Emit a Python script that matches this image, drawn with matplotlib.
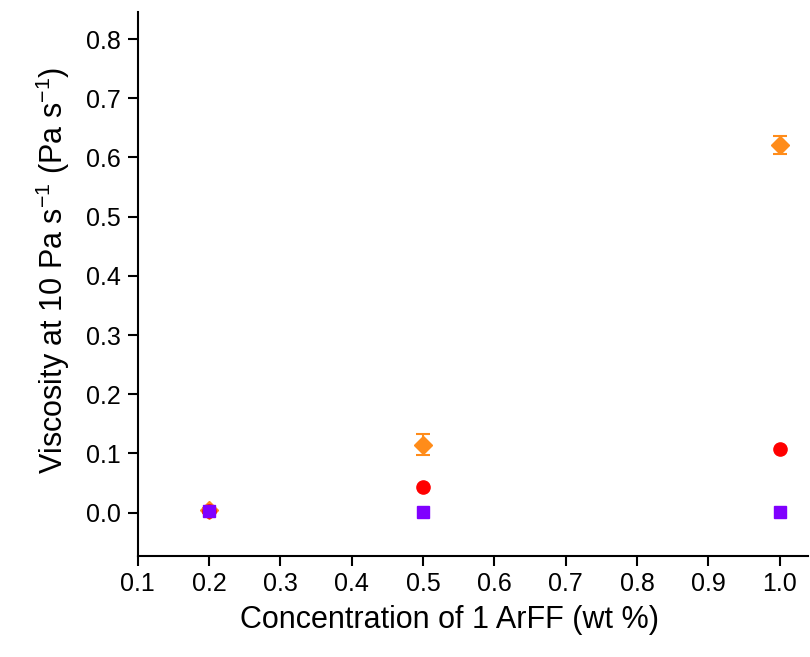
import matplotlib.pyplot as plt

plt.rcParams['font.family'] = ['Liberation Sans', 'DejaVu Sans']
plt.rcParams['mathtext.fontset'] = 'custom'
plt.rcParams['mathtext.rm'] = 'Liberation Sans'
plt.rcParams['mathtext.default'] = 'rm'

# concentration (wt %)
conc = [0.2, 0.5, 1.0]
# viscosity series
orange_vals = [0.004, 0.115, 0.621]
orange_err = [0.004, 0.018, 0.016]
red_vals = [0.002, 0.043, 0.107]
purple_vals = [0.002, 0.001, 0.001]

fig = plt.figure(figsize=(8.1, 6.57), dpi=100)
ax = fig.add_axes([0.170, 0.154, 0.828, 0.828])

ax.errorbar(conc, orange_vals, yerr=orange_err, fmt='D', color='#FF8C1A',
            markersize=9.5, capsize=5, elinewidth=1.5, capthick=1.5, zorder=2)
ax.plot(conc, red_vals, 'o', color='#FF0000', markersize=9.5, zorder=3)
ax.plot(conc, purple_vals, 's', color='#8000FF', markersize=8, zorder=4)

ax.set_xlim(0.1, 1.04)
ax.set_ylim(-0.073, 0.846)
ax.set_xticks([0.1, 0.2, 0.3, 0.4, 0.5, 0.6, 0.7, 0.8, 0.9, 1.0])
ax.set_yticks([0.0, 0.1, 0.2, 0.3, 0.4, 0.5, 0.6, 0.7, 0.8])
ax.xaxis.set_major_formatter(plt.FormatStrFormatter('%.1f'))
ax.yaxis.set_major_formatter(plt.FormatStrFormatter('%.1f'))

ax.spines['top'].set_visible(False)
ax.spines['right'].set_visible(False)
ax.spines['left'].set_linewidth(1.5)
ax.spines['bottom'].set_linewidth(1.5)
ax.tick_params(direction='out', length=7, width=1.5, labelsize=18, pad=5)

ax.set_xlabel('Concentration of 1 ArFF (wt %)', fontsize=22)
ax.set_ylabel('Viscosity at 10 Pa s$^{-1}$ (Pa s$^{-1}$)', fontsize=22)
ax.xaxis.set_label_coords(0.465, -0.09)
ax.yaxis.set_label_coords(-0.098, 0.525)

plt.savefig('out.png', dpi=100)
